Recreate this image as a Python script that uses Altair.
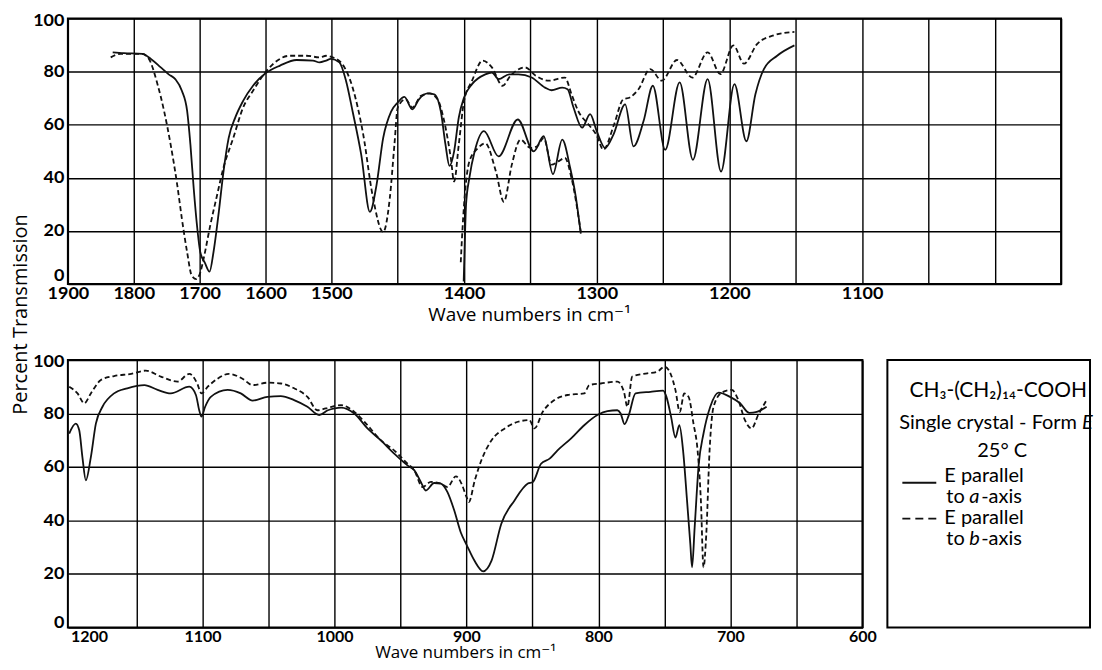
import altair as alt
import pandas as pd

FONT = "Lato, DejaVu Sans, sans-serif"
TFONT = "Open Sans, DejaVu Sans, sans-serif"

# ---------------- data: [wave number (cm-1), percent transmission] ----------------
# upper panel, E parallel to a-axis (solid)
top_a = [
    [1832, 87.3], [1815, 87.0], [1787, 86.7], [1774, 84.8], [1759, 81.6], [1747, 79.0],
    [1737, 77.2], [1727, 72.8], [1719, 65.2], [1714, 52.5], [1709, 36.0], [1704, 22.0],
    [1699, 12.0], [1692, 8.0], [1685, 4.7], [1679, 12.0], [1671, 27.0], [1664, 42.0],
    [1656, 55.0], [1646, 62.7], [1634, 69.0], [1619, 74.7], [1600, 79.4], [1578, 82.3],
    [1553, 84.4], [1528, 84.2], [1518, 83.5], [1508, 84.2], [1501, 84.8], [1494, 83.5],
    [1489, 76.6], [1484, 65.0], [1477.5, 48.7], [1471, 27.2], [1466, 37.3], [1461, 55.0],
    [1455, 65.0], [1450, 68.4], [1445, 70.5], [1439, 65.8], [1434, 69.6], [1427.5, 71.8],
    [1422.5, 71.5], [1417.5, 65.0], [1414, 52.5], [1411, 44.5], [1407.5, 50.0], [1404, 62.7],
    [1400, 70.3], [1394, 75.3], [1384, 79.0], [1379, 79.7], [1374, 77.2], [1366, 79.0],
    [1359, 79.0], [1349, 77.8], [1339, 74.0], [1334, 73.0], [1326, 74.0], [1322, 73.4],
    [1317.5, 66.5], [1311, 58.9], [1305, 64.0], [1300, 57.6], [1293.7, 51.3], [1287.4, 56.3],
    [1278.6, 67.7], [1272.3, 51.9], [1264.7, 61.4], [1257.7, 74.7], [1248.4, 50.6],
    [1237.5, 76.0], [1227.5, 46.8], [1216.4, 77.2], [1206.3, 42.4], [1196.2, 75.3],
    [1187.2, 53.8], [1180.4, 71.5], [1174, 81.0], [1164, 86.0], [1151, 89.9],
]
# upper panel, E parallel to b-axis (dashed)
top_b = [
    [1835, 85.4], [1820, 86.7], [1787, 86.7], [1777, 84.8], [1764, 75.3], [1754, 65.2],
    [1744, 52.5], [1734, 37.3], [1727, 24.7], [1719, 12.0], [1712, 3.2], [1705, 1.9],
    [1699, 4.4], [1694, 9.5], [1684, 22.0], [1674, 33.0], [1664, 43.7], [1649, 55.0],
    [1634, 66.5], [1619, 72.8], [1604, 78.5], [1588, 83.0], [1563, 86.0], [1538, 86.0],
    [1518, 85.4], [1508, 86.0], [1499, 85.4], [1491, 82.3], [1484, 74.0], [1476, 56.3],
    [1469, 33.5], [1461, 19.6], [1456, 32.3], [1452.5, 52.5], [1450, 66.5], [1444, 69.6],
    [1439, 66.5], [1432.5, 70.9], [1426, 71.8], [1420, 69.6], [1415, 61.4], [1410, 47.5],
    [1407.5, 38.6], [1404, 52.5], [1400, 69.0], [1394, 76.6], [1386, 84.2], [1379, 81.6],
    [1371, 74.7], [1365, 78.5], [1354, 81.6], [1346, 78.5], [1336, 76.6], [1324, 77.8],
    [1319, 71.5], [1314, 65.2], [1306, 60.0], [1300, 56.0], [1295, 50.6], [1287, 60.0],
    [1280, 69.6], [1275, 70.3], [1268.5, 73.4], [1259.7, 81.0], [1251, 76.6], [1239.5, 84.4],
    [1228, 77.8], [1216.4, 87.3], [1206.8, 79.1], [1197, 89.9], [1189, 83.0], [1179, 90.5],
    [1166.5, 93.7], [1151, 95.0],
]
# upper panel, second (expanded) recording 1400-1310, solid and dashed
top_a_low = [
    [1400.3, 1.0], [1399.5, 15.0], [1398.5, 30.0], [1396, 40.0], [1392, 50.0], [1385, 57.6],
    [1374, 48.1], [1359.5, 62.0], [1347.5, 50.0], [1340, 55.7], [1333, 41.4], [1326, 54.4],
    [1320, 43.7], [1316, 33.5], [1312, 19.0],
]
top_b_low = [
    [1402.5, 8.2], [1401.5, 18.0], [1400, 30.0], [1396, 46.2], [1390, 51.0], [1384, 53.0],
    [1376, 42.4], [1370, 31.0], [1364, 45.0], [1357.5, 54.4], [1350, 51.3], [1345, 51.9],
    [1340, 55.0], [1334, 45.0], [1329, 46.2], [1324, 47.5], [1319, 39.9], [1312, 19.6],
]
# lower panel, E parallel to a-axis (solid)
bot_a = [
    [1201, 72.5], [1196, 76.2], [1193.4, 73.7], [1191, 63.7], [1188.4, 55.0], [1184.6, 63.7],
    [1180.8, 76.2], [1175.8, 82.5], [1167, 87.5], [1157, 89.4], [1144, 90.6], [1134, 88.8],
    [1124, 87.5], [1110, 90.0], [1105, 86.9], [1102.5, 81.2], [1100.8, 78.8], [1098, 82.5],
    [1093.7, 86.2], [1081, 88.8], [1071, 87.5], [1062, 84.8], [1050.8, 86.2], [1040.7, 86.5],
    [1030.6, 85.0], [1020.5, 82.5], [1011.6, 79.4], [1005, 81.2], [1000, 81.9], [995, 82.2],
    [985, 80.0], [975, 74.4], [965, 70.0], [954.8, 65.0], [944.7, 60.6], [939.6, 58.8],
    [934.6, 54.4], [930.8, 51.2], [924.5, 54.0], [919.4, 53.8], [914.4, 50.6], [909.3, 43.8],
    [904.3, 35.5], [900, 31.0], [894, 25.0], [887.4, 21.0], [881, 25.0], [873.6, 38.8],
    [863.6, 47.5], [853.5, 53.8], [849.7, 54.4], [843.5, 61.2], [837, 63.1], [831, 66.2],
    [820.9, 70.6], [810.8, 75.6], [800.8, 79.4], [793.2, 80.9], [785.7, 81.2], [783.2, 80.0],
    [780.2, 76.0], [777, 79.4], [771.9, 87.5], [760.6, 88.1], [751, 88.5], [748.5, 86.2],
    [745, 78.8], [741.7, 71.0], [738.7, 75.6], [735.9, 66.2], [732.9, 47.5], [730.4, 31.2],
    [729.1, 22.5], [727.1, 37.5], [724.1, 60.6], [720.4, 72.5], [715.3, 82.5], [709, 87.8],
    [700.3, 86.2], [692.7, 83.8], [685.7, 80.2], [680, 80.6], [672.6, 82.5],
]
# lower panel, E parallel to b-axis (dashed)
bot_b = [
    [1201, 90.0], [1194.7, 87.5], [1189.6, 83.8], [1184.6, 87.5], [1177, 92.5], [1167, 94.0],
    [1154, 94.8], [1143, 96.0], [1131.6, 93.8], [1119, 91.9], [1110, 94.8], [1104, 91.2],
    [1100.8, 87.5], [1096, 90.0], [1088.6, 93.0], [1080, 94.8], [1069.7, 93.0], [1062, 90.6],
    [1050.8, 91.5], [1040.7, 91.2], [1030.6, 89.4], [1020.5, 86.2], [1012.9, 81.2],
    [1006.6, 81.9], [995, 83.1], [985, 80.6], [975, 75.6], [965, 70.0], [954.8, 66.2],
    [944.7, 61.2], [939.6, 58.8], [933.3, 52.5], [927, 54.4], [919.4, 53.8], [914.4, 52.5],
    [908, 56.5], [903.8, 53.8], [900, 48.8], [898.2, 46.9], [893.7, 55.0], [888.7, 62.5],
    [881, 70.0], [871, 74.4], [861, 76.9], [852.3, 77.5], [848.5, 74.4], [842.2, 80.6],
    [833.4, 85.0], [823.4, 86.9], [810.8, 87.5], [807, 90.6], [798.2, 91.2], [785.7, 91.9],
    [780.7, 88.1], [778.1, 82.5], [774.4, 93.8], [763, 95.0], [755.5, 95.6], [750, 97.5],
    [745.5, 95.0], [741.7, 88.8], [738.4, 80.6], [735, 87.5], [731.7, 86.2], [728, 76.2],
    [724.9, 66.2], [722.4, 47.5], [720.4, 22.5], [718.3, 35.0], [715.8, 66.2], [712.8, 82.5],
    [706.5, 87.8], [699, 88.8], [694, 85.0], [689, 77.5], [684, 74.4], [679, 79.4],
    [672.6, 85.0],
]

# axis values
top_grid_values = [1900, 1800, 1700, 1600, 1500, 1450, 1400, 1350, 1300, 1250, 1200,
                   1150, 1100, 1050, 1000, 950]
bot_grid_values = [1200, 1150, 1100, 1050, 1000, 950, 900, 850, 800, 750, 700, 650, 600]
y_values = [0, 20, 40, 60, 80, 100]

x_title = "Wave numbers in cm⁻¹"
y_title = "Percent Transmission"
legend_formula = "CH₃-(CH₂)₁₄-COOH"
legend_crystal = "Single crystal - Form"
legend_temp = "25° C"


def frame(pairs, seg):
    return pd.DataFrame({"wn": [p[0] for p in pairs], "T": [p[1] for p in pairs], "seg": seg})


top_solid = pd.concat([frame(top_a, "main"), frame(top_a_low, "low")], ignore_index=True)
top_dash = pd.concat([frame(top_b, "main"), frame(top_b_low, "low")], ignore_index=True)
bot_solid = frame(bot_a, "main")
bot_dash = frame(bot_b, "main")

BASE = dict(grid=True, gridColor="black", gridWidth=1.4, ticks=False,
            tickSize=0, domain=False, labelFont=FONT, labelColor="black",
            labelFontWeight="bold", labelOverlap=False, titleFont=TFONT,
            titleColor="black", titleFontWeight="normal")


def y_axis(zero_shift, **kw):
    return alt.Axis(
        values=y_values, labelFontSize=18, labelPadding=4, gridOpacity=1,
        labelOffset={"condition": [{"test": "datum.value == 0", "value": zero_shift},
                                   {"test": "datum.value == 100", "value": 2}],
                     "value": 0},
        **kw, **BASE)


y_axis_top = y_axis(-9, title=y_title, titleFontSize=20, titleX=-47, titleY=296,
                    titleBaseline="middle")
y_axis_bot = y_axis(-5, title=None)

top_x_axis = alt.Axis(
    values=top_grid_values, format="d",
    labelExpr="(datum.value % 100 == 0 && datum.value >= 1100) ? datum.label : ''",
    labelFontSize=18, labelPadding=0, labelFlush=False, gridOpacity=1,
    title=x_title, titleFontSize=19, titleX=462, titlePadding=3, **BASE)

bot_x_axis = alt.Axis(
    values=bot_grid_values, format="d",
    labelExpr="datum.value % 100 == 0 ? datum.label : ''",
    labelAlign={"condition": {"test": "datum.value == 1200", "value": "left"}, "value": "center"},
    gridOpacity={"condition": {"test": "datum.value == 1200", "value": 0}, "value": 1},
    labelFontSize=16, labelPadding=1, labelFlush=False,
    title=x_title, titleFontSize=17, titlePadding=0, **BASE)

top_x = alt.X("wn:Q", scale=alt.Scale(domain=[950, 1500, 1900], range=[995, 264, 0],
                                      nice=False, zero=False), axis=top_x_axis)
top_y = alt.Y("T:Q", scale=alt.Scale(domain=[0, 100], nice=False, zero=False), axis=y_axis_top)

bot_x = alt.X("wn:Q", scale=alt.Scale(domain=[600, 1202], reverse=True, nice=False, zero=False),
              axis=bot_x_axis)
bot_y = alt.Y("T:Q", scale=alt.Scale(domain=[0, 100], nice=False, zero=False), axis=y_axis_bot)

LINE = dict(color="#111111", strokeWidth=1.8, interpolate="monotone")

top = alt.layer(
    alt.Chart(top_solid).mark_line(**LINE).encode(x=top_x, y=top_y, detail="seg:N"),
    alt.Chart(top_dash).mark_line(strokeDash=[5, 3], **LINE).encode(x=top_x, y=top_y, detail="seg:N"),
).properties(width=995, height=266)

bottom = alt.layer(
    alt.Chart(bot_solid).mark_line(**LINE).encode(x=bot_x, y=bot_y),
    alt.Chart(bot_dash).mark_line(strokeDash=[5, 3], **LINE).encode(x=bot_x, y=bot_y),
).properties(width=796, height=268)

anchor = pd.DataFrame({"k": [0]})


def ltext(s, x, y, align="left", italic=False, size=20):
    return alt.Chart(anchor).mark_text(
        text=s, align=align, baseline="middle", font=FONT, fontSize=size,
        fontStyle="italic" if italic else "normal", color="black"
    ).encode(x=alt.value(x), y=alt.value(y))


legend = alt.layer(
    ltext(legend_formula, 111, 31, align="center", size=21),
    ltext(legend_crystal, 190, 63, align="right"),
    ltext("E", 195, 63, italic=True),
    ltext(legend_temp, 115, 91, align="center"),
    alt.Chart(anchor).mark_rule(color="#111111", strokeWidth=1.8).encode(
        x=alt.value(15), x2=alt.value(49), y=alt.value(123)),
    ltext("E parallel", 57, 116),
    ltext("to", 59, 137),
    ltext("a", 82, 137, italic=True),
    ltext("-axis", 94, 137),
    alt.Chart(anchor).mark_rule(color="#111111", strokeWidth=1.8, strokeDash=[8, 5]).encode(
        x=alt.value(15), x2=alt.value(49), y=alt.value(159)),
    ltext("E parallel", 57, 158),
    ltext("to", 59, 179),
    ltext("b", 82, 179, italic=True),
    ltext("-axis", 94, 179),
).properties(width=203, height=268)

chart = alt.vconcat(
    top,
    alt.hconcat(bottom, legend, spacing=25, bounds="flush"),
    spacing=76, bounds="flush",
).properties(
    padding={"left": 2, "top": 2, "right": 0, "bottom": 0},
    background="white",
).configure_view(
    stroke="black", strokeWidth=2
)

chart.save("out.html", embed_options={"renderer": "svg", "actions": False})
